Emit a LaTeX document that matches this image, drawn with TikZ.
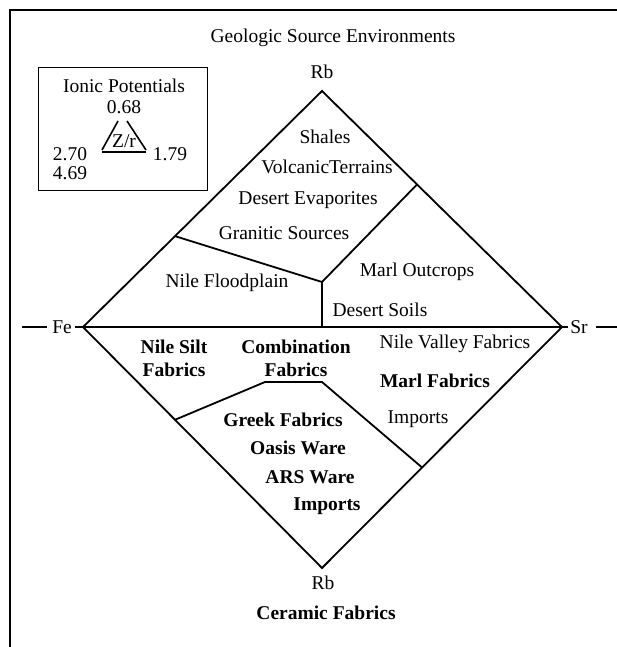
\documentclass[tikz,border=0pt]{standalone}
\usepackage{fontspec}
\setmainfont{Liberation Serif}
\usetikzlibrary{calc}
\begin{document}
\begin{tikzpicture}[x=1pt,y=-1pt,
  lbl/.style={inner sep=0pt,font=\fontsize{19.5}{23}\selectfont},
  blbl/.style={lbl,font=\fontsize{19.5}{23}\selectfont\bfseries},
  edge/.style={line width=1.8pt,line join=miter},
  thin/.style={line width=1.2pt}]
\useasboundingbox (0,0) rectangle (617,647);
% frame
\draw[line width=2.8pt] (10,647) -- (10,10) -- (617,10);
% title
\node[lbl] (title) at (333,38) {Geologic Source Environments};
% ionic box
\node[draw,thin,minimum width=169pt,minimum height=123pt,anchor=north west,inner sep=0pt] (ibox) at (38,67) {};
\node[lbl] (ip) at (124,86) {Ionic Potentials};
\node[lbl] (v068) at (124,107) {0.68};
\node[lbl] (v270) at (70,154) {2.70};
\node[lbl] (v179) at (170,154) {1.79};
\node[lbl] (v469) at (70,173) {4.69};
\node[lbl] (zr) at (124,141) {Z/r};
\coordinate (ta) at (102,150);
\coordinate (tb) at (118,121);
\coordinate (tc) at (127,121);
\coordinate (td) at (146,150);
\coordinate (te) at (102,152);
\coordinate (tf) at (146,152);
\draw[line width=1.6pt] (ta) -- (tb);
\draw[line width=1.6pt] (tc) -- (td);
\draw[line width=1.6pt] (te) -- (tf);
% diamond
\coordinate (T) at (322,91);
\coordinate (L) at (83,327);
\coordinate (R) at (562,327);
\coordinate (B) at (322,568);
\draw[edge] (T) -- (R) -- (B) -- (L) -- cycle;
\draw[edge] (L) -- (R);
\node[lbl] (rbtop) at (322,72) {Rb};
\node[lbl] (rbbot) at (323,583) {Rb};
\node[lbl] (fe) at (62,327) {Fe};
\node[lbl] (sr) at (579,327) {Sr};
\coordinate (fl) at (22,327);
\coordinate (sl) at (617,327);
\draw[edge,shorten >=5pt] (fl) -- (fe.west);
\draw[edge,shorten <=3pt] (fe.east) -- (L);
\draw[edge,shorten >=2pt] (R) -- (sr.west);
\draw[edge,shorten <=8pt] (sr.east) -- (sl);
% upper partition
\coordinate (J) at (322,282);
\coordinate (P1) at ($(L)!0.385!(T)$);
\coordinate (P2) at ($(T)!0.396!(R)$);
\coordinate (J0) at (322,327);
\draw[edge] (P1) -- (J) -- (P2);
\draw[edge] (J) -- (J0);
% lower partition
\coordinate (Q1) at ($(L)!0.385!(B)$);
\coordinate (Q2) at (265,382);
\coordinate (Q3) at (322,382);
\coordinate (Q4) at ($(R)!0.583!(B)$);
\draw[edge] (Q1) -- (Q2) -- (Q3) -- (Q4);
% upper labels
\node[lbl] (shales) at (325,137) {Shales};
\node[lbl] (volc) at (327,167) {VolcanicTerrains};
\node[lbl] (dev) at (308,200) {Desert Evaporites};
\node[lbl] (gran) at (284,233) {Granitic Sources};
\node[lbl] (nfp) at (227,283) {Nile Floodplain};
\node[lbl] (marlo) at (417,272) {Marl Outcrops};
\node[lbl] (dsoils) at (380,310) {Desert Soils};
% lower labels
\node[blbl,align=center] (nsilt) at (174,358) {Nile Silt\\Fabrics};
\node[blbl,align=center] (comb) at (296,358) {Combination\\Fabrics};
\node[lbl] (nvf) at (455,344) {Nile Valley Fabrics};
\node[blbl] (marlf) at (435,381) {Marl Fabrics};
\node[lbl] (imp1) at (418,419) {Imports};
\node[blbl] (greek) at (283,420) {Greek Fabrics};
\node[blbl] (oasis) at (298,448) {Oasis Ware};
\node[blbl] (ars) at (310,477) {ARS Ware};
\node[blbl] (imp2) at (327,506) {Imports};
\node[blbl] (cer) at (326,613) {Ceramic Fabrics};
\end{tikzpicture}
\end{document}
